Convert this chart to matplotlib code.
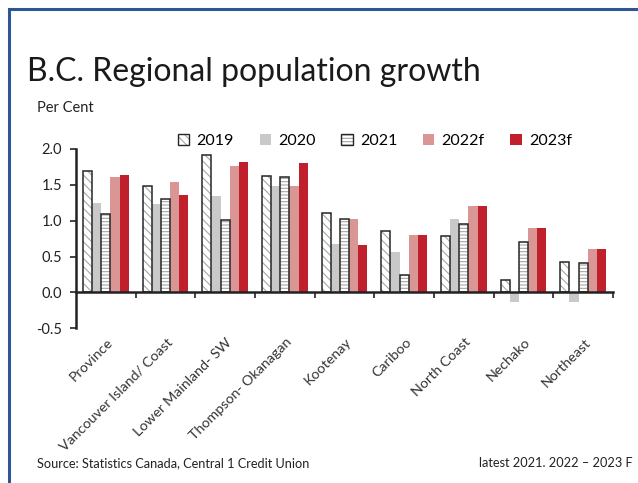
import matplotlib
matplotlib.use("Agg")
import matplotlib.pyplot as plt
from matplotlib.patches import Patch
from matplotlib.legend_handler import HandlerTuple
import matplotlib.transforms as mtransforms
import numpy as np

plt.rcParams['font.family'] = ['Lato', 'DejaVu Sans']
plt.rcParams['hatch.linewidth'] = 0.8

regions = ['Province', 'Vancouver Island/ Coast', 'Lower Mainland- SW',
           'Thompson- Okanagan', 'Kootenay', 'Cariboo', 'North Coast',
           'Nechako', 'Northeast']
years = ['2019', '2020', '2021', '2022f', '2023f']

g2019 = [1.69, 1.48, 1.91, 1.63, 1.11, 0.85, 0.78, 0.17, 0.43]
g2020 = [1.25, 1.24, 1.34, 1.48, 0.67, 0.57, 1.02, -0.14, -0.13]
g2021 = [1.09, 1.30, 1.01, 1.61, 1.02, 0.24, 0.96, 0.70, 0.41]
g2022 = [1.61, 1.54, 1.76, 1.49, 1.03, 0.80, 1.20, 0.90, 0.60]
g2023 = [1.64, 1.36, 1.82, 1.81, 0.66, 0.80, 1.20, 0.90, 0.60]

series = [g2019, g2020, g2021, g2022, g2023]
# face, hatch, hatch colour, outline
styles = [
    ('white', '\\\\\\\\', '#a6a6a6', '#262626'),
    ('#c9c9c9', None, None, None),
    ('white', '-----', '#a6a6a6', '#262626'),
    ('#da9694', None, None, None),
    ('#c0202b', None, None, None),
]

fig = plt.figure(figsize=(6.38, 4.83), dpi=100)
ax = fig.add_axes([76/638, 154.7/483, (613-76)/638, (328.3-149)/483])

x = np.arange(len(regions))
bw = 0.154
handles = []
for k, (vals, st) in enumerate(zip(series, styles)):
    face, hatch, hcol, edge = st
    pos = x + (k - 2) * bw
    if hatch:
        ax.bar(pos, vals, bw, color=face, hatch=hatch, edgecolor=hcol, linewidth=0, zorder=2)
        ax.bar(pos, vals, bw, fill=False, edgecolor=edge, linewidth=1.1, zorder=3)
        h = (Patch(facecolor=face, hatch=hatch, edgecolor=hcol, linewidth=0),
             Patch(fill=False, edgecolor=edge, linewidth=1.0))
    else:
        ax.bar(pos, vals, bw, color=face, linewidth=0, zorder=2)
        h = Patch(facecolor=face, linewidth=0)
    handles.append(h)

ax.set_xlim(-0.5, len(regions) - 0.5)
ax.set_ylim(-0.5, 2.0)
ax.set_yticks([-0.5, 0.0, 0.5, 1.0, 1.5, 2.0])
ax.set_yticklabels(['-0.5', '0.0', '0.5', '1.0', '1.5', '2.0'], fontsize=10.5, color='#222222')
ax.tick_params(axis='y', direction='out', length=4, width=1.2, color='#222222', pad=6)

for s in ['top', 'right']:
    ax.spines[s].set_visible(False)
ax.spines['left'].set_linewidth(1.8)
ax.spines['left'].set_color('#222222')
ax.spines['bottom'].set_position(('data', 0))
ax.spines['bottom'].set_linewidth(1.8)
ax.spines['bottom'].set_color('#222222')
ax.spines['bottom'].set_zorder(4)
ax.set_xticks(np.arange(len(regions)) + 0.5)
ax.set_xticklabels([])
ax.tick_params(axis='x', direction='out', length=4, width=1.2, color='#222222')

# category names under the plot, slanted
off = mtransforms.ScaledTranslation(0.05, -0.12, fig.dpi_scale_trans)
for i, name in enumerate(regions):
    ax.text(i, -0.5, name, rotation=45, ha='right', va='center',
            rotation_mode='anchor', fontsize=10.3, color='#333333',
            transform=ax.transData + off)

fig.legend(handles, years, handler_map={tuple: HandlerTuple(ndivide=1, pad=0)},
           loc='center left', bbox_to_anchor=(178/638, 1 - 141/483), ncol=5,
           frameon=False, fontsize=11.5, handlelength=0.7, handleheight=0.7,
           handletextpad=0.45, columnspacing=1.62, borderaxespad=0, borderpad=0)

fig.text(27/638, 1 - 72/483, 'B.C. Regional population growth', fontsize=23,
         color='#1a1a1a', va='center', ha='left')
fig.text(37/638, 1 - 108/483, 'Per Cent', fontsize=10.5, color='#222222',
         va='center', ha='left')
fig.text(37/638, 1 - 463/483, 'Source: Statistics Canada, Central 1 Credit Union',
         fontsize=9.2, color='#222222', va='center', ha='left')
fig.text(633/638, 1 - 463/483, 'latest 2021. 2022 \u2013 2023 F',
         fontsize=9.2, color='#222222', va='center', ha='right')

# frame along top and left edges
fig.add_artist(plt.Line2D([8.5/638, 8.5/638, 1.0], [0.0, 1 - 9/483, 1 - 9/483],
                          transform=fig.transFigure, color='#2f5597', linewidth=2.2,
                          solid_joinstyle='miter'))

fig.savefig('out.png', dpi=100)
